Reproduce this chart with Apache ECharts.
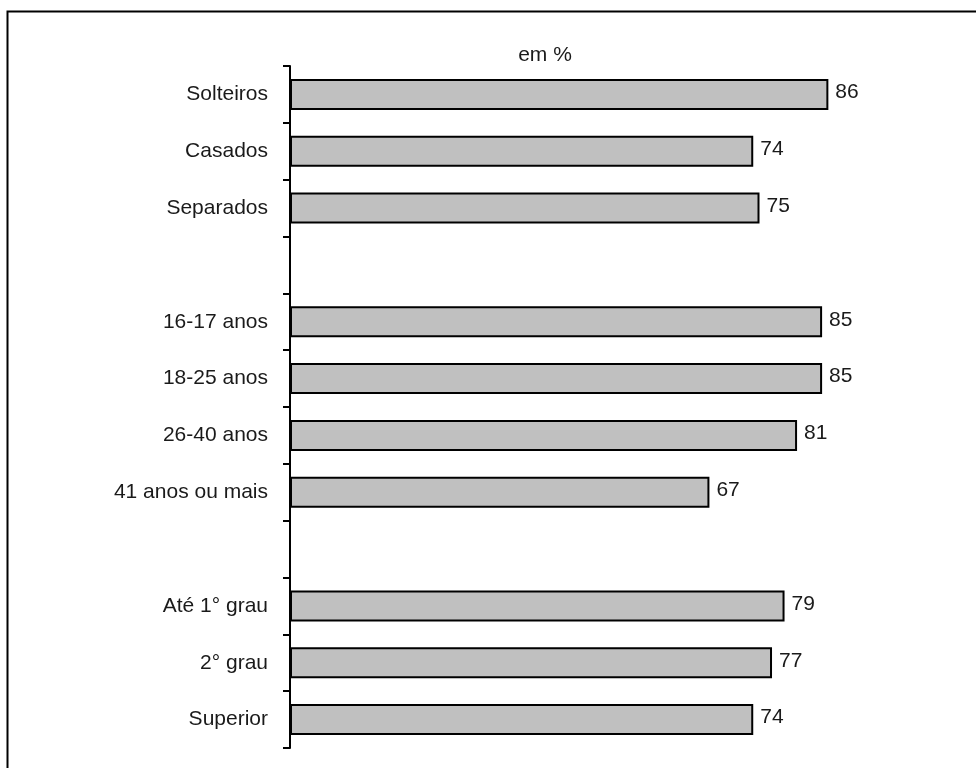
<!DOCTYPE html>
<html>
<head>
<meta charset="utf-8">
<title>em %</title>
<script src="https://cdn.jsdelivr.net/npm/echarts@6/dist/echarts.min.js"></script>
<style>
  html, body { margin: 0; padding: 0; background: #fff; }
  #chart { width: 976px; height: 768px; }
</style>
</head>
<body>
<div id="chart"></div>
<script>
// Categories top to bottom; empty strings separate the three groups
const categories = [
  'Solteiros', 'Casados', 'Separados', '',
  '16-17 anos', '18-25 anos', '26-40 anos', '41 anos ou mais', '',
  'Até 1° grau', '2° grau', 'Superior'
];
// Percentages (null = group separator, no bar)
const values = [86, 74, 75, null, 85, 85, 81, 67, null, 79, 77, 74];
const unitLabel = 'em %';

const FONT = '"Liberation Sans", Arial, sans-serif';
const FONT_SIZE = 21;

const chart = echarts.init(document.getElementById('chart'), null, { renderer: 'canvas' });

chart.setOption({
  animation: false,
  backgroundColor: '#ffffff',
  graphic: [
    {
      // frame around the figure (its right and bottom edges fall outside the page)
      type: 'rect',
      shape: { x: 7.5, y: 11.5, width: 1000, height: 800 },
      style: { fill: 'none', stroke: '#000', lineWidth: 2 },
      silent: true
    },
    {
      type: 'text',
      x: 545,
      y: 55,
      style: {
        text: unitLabel,
        font: FONT_SIZE + 'px ' + FONT,
        fill: '#1a1a1a',
        align: 'center',
        verticalAlign: 'middle'
      }
    }
  ],
  grid: { left: 290, right: 60, top: 66, bottom: 20, containLabel: false },
  xAxis: {
    type: 'value',
    min: 0,
    max: 100,
    show: false
  },
  yAxis: {
    type: 'category',
    data: categories,
    inverse: true,
    axisLine: { show: true, lineStyle: { color: '#000', width: 2 } },
    axisTick: {
      show: true,
      alignWithLabel: false,
      inside: false,
      length: 7,
      lineStyle: { color: '#000', width: 2 }
    },
    axisLabel: {
      margin: 22,
      color: '#1a1a1a',
      fontFamily: FONT,
      fontSize: FONT_SIZE,
      verticalAlign: 'middle',
      padding: [0, 0, 6, 0]
    },
    splitLine: { show: false }
  },
  series: [
    {
      type: 'bar',
      data: values,
      barWidth: 31,
      itemStyle: {
        color: '#c0c0c0',
        borderColor: '#000',
        borderWidth: 2
      },
      label: {
        show: true,
        position: 'right',
        distance: 7,
        offset: [0, -2],
        color: '#1a1a1a',
        fontFamily: FONT,
        fontSize: FONT_SIZE
      }
    }
  ]
});
</script>
</body>
</html>
